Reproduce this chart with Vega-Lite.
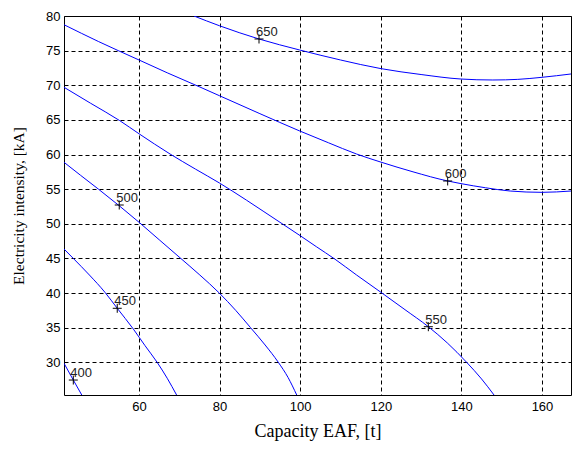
{
  "$schema": "https://vega.github.io/schema/vega-lite/v6.json",
  "width": 507,
  "height": 379,
  "autosize": {"type": "none"},
  "padding": {"left": 64, "top": 16, "right": 1, "bottom": 55},
  "background": "white",
  "config": {
    "view": {"stroke": "black", "strokeWidth": 1},
    "axis": {
      "grid": true,
      "gridColor": "black",
      "gridOpacity": 1,
      "gridDash": [4, 3],
      "gridWidth": 1,
      "ticks": false,
      "tickSize": 0,
      "domain": false,
      "labelFont": "Liberation Sans",
      "labelFontSize": 13,
      "labelColor": "black",
      "titleFont": "Liberation Serif",
      "titleFontSize": 16,
      "titleFontWeight": "normal",
      "titleColor": "black"
    }
  },
  "datasets": {
    "contours": [
      {"level": 650, "i": 1, "x": 73.65, "y": 80.0},
      {"level": 650, "i": 2, "x": 79.93, "y": 78.6},
      {"level": 650, "i": 3, "x": 89.78, "y": 76.68},
      {"level": 650, "i": 4, "x": 99.88, "y": 75.09},
      {"level": 650, "i": 5, "x": 110.0, "y": 73.65},
      {"level": 650, "i": 6, "x": 120.05, "y": 72.4},
      {"level": 650, "i": 7, "x": 130.0, "y": 71.55},
      {"level": 650, "i": 8, "x": 139.9, "y": 70.9},
      {"level": 650, "i": 9, "x": 147.8, "y": 70.76},
      {"level": 650, "i": 10, "x": 154.0, "y": 70.85},
      {"level": 650, "i": 11, "x": 160.0, "y": 71.15},
      {"level": 650, "i": 12, "x": 167.2, "y": 71.63},
      {"level": 600, "i": 1, "x": 41.39, "y": 78.74},
      {"level": 600, "i": 2, "x": 50.0, "y": 76.3},
      {"level": 600, "i": 3, "x": 60.0, "y": 73.65},
      {"level": 600, "i": 4, "x": 67.0, "y": 71.8},
      {"level": 600, "i": 5, "x": 75.1, "y": 69.75},
      {"level": 600, "i": 6, "x": 79.93, "y": 68.5},
      {"level": 600, "i": 7, "x": 90.0, "y": 65.9},
      {"level": 600, "i": 8, "x": 99.88, "y": 63.4},
      {"level": 600, "i": 9, "x": 107.0, "y": 61.7},
      {"level": 600, "i": 10, "x": 114.0, "y": 60.07},
      {"level": 600, "i": 11, "x": 120.05, "y": 58.9},
      {"level": 600, "i": 12, "x": 128.0, "y": 57.5},
      {"level": 600, "i": 13, "x": 136.6, "y": 56.18},
      {"level": 600, "i": 14, "x": 139.9, "y": 55.8},
      {"level": 600, "i": 15, "x": 146.0, "y": 55.2},
      {"level": 600, "i": 16, "x": 152.1, "y": 54.73},
      {"level": 600, "i": 17, "x": 160.0, "y": 54.54},
      {"level": 600, "i": 18, "x": 167.2, "y": 54.73},
      {"level": 550, "i": 1, "x": 41.39, "y": 69.71},
      {"level": 550, "i": 2, "x": 48.0, "y": 67.4},
      {"level": 550, "i": 3, "x": 55.2, "y": 64.9},
      {"level": 550, "i": 4, "x": 60.0, "y": 63.0},
      {"level": 550, "i": 5, "x": 67.7, "y": 60.08},
      {"level": 550, "i": 6, "x": 74.0, "y": 57.9},
      {"level": 550, "i": 7, "x": 79.93, "y": 55.9},
      {"level": 550, "i": 8, "x": 86.7, "y": 53.4},
      {"level": 550, "i": 9, "x": 91.0, "y": 51.75},
      {"level": 550, "i": 10, "x": 95.8, "y": 49.9},
      {"level": 550, "i": 11, "x": 99.95, "y": 48.3},
      {"level": 550, "i": 12, "x": 104.0, "y": 46.7},
      {"level": 550, "i": 13, "x": 108.6, "y": 44.9},
      {"level": 550, "i": 14, "x": 114.0, "y": 42.6},
      {"level": 550, "i": 15, "x": 120.05, "y": 40.1},
      {"level": 550, "i": 16, "x": 126.0, "y": 37.6},
      {"level": 550, "i": 17, "x": 131.8, "y": 35.14},
      {"level": 550, "i": 18, "x": 136.5, "y": 32.8},
      {"level": 550, "i": 19, "x": 141.3, "y": 30.0},
      {"level": 550, "i": 20, "x": 145.0, "y": 27.6},
      {"level": 550, "i": 21, "x": 148.1, "y": 25.28},
      {"level": 500, "i": 1, "x": 41.39, "y": 58.88},
      {"level": 500, "i": 2, "x": 45.5, "y": 57.0},
      {"level": 500, "i": 3, "x": 49.9, "y": 55.02},
      {"level": 500, "i": 4, "x": 55.1, "y": 52.6},
      {"level": 500, "i": 5, "x": 60.25, "y": 50.1},
      {"level": 500, "i": 6, "x": 65.0, "y": 47.7},
      {"level": 500, "i": 7, "x": 70.17, "y": 45.1},
      {"level": 500, "i": 8, "x": 75.1, "y": 42.6},
      {"level": 500, "i": 9, "x": 79.93, "y": 40.0},
      {"level": 500, "i": 10, "x": 84.0, "y": 37.5},
      {"level": 500, "i": 11, "x": 87.7, "y": 34.99},
      {"level": 500, "i": 12, "x": 91.3, "y": 32.5},
      {"level": 500, "i": 13, "x": 94.57, "y": 30.0},
      {"level": 500, "i": 14, "x": 97.0, "y": 27.8},
      {"level": 500, "i": 15, "x": 99.14, "y": 25.28},
      {"level": 450, "i": 1, "x": 41.39, "y": 46.36},
      {"level": 450, "i": 2, "x": 43.7, "y": 45.0},
      {"level": 450, "i": 3, "x": 47.7, "y": 42.6},
      {"level": 450, "i": 4, "x": 51.56, "y": 40.1},
      {"level": 450, "i": 5, "x": 54.6, "y": 37.8},
      {"level": 450, "i": 6, "x": 58.6, "y": 34.8},
      {"level": 450, "i": 7, "x": 61.5, "y": 32.4},
      {"level": 450, "i": 8, "x": 64.5, "y": 30.0},
      {"level": 450, "i": 9, "x": 67.0, "y": 27.7},
      {"level": 450, "i": 10, "x": 69.33, "y": 25.28},
      {"level": 400, "i": 1, "x": 41.39, "y": 29.86},
      {"level": 400, "i": 2, "x": 43.7, "y": 27.44},
      {"level": 400, "i": 3, "x": 45.8, "y": 25.28}
    ],
    "labels": [
      {"level": "650", "x": 89.78, "y": 76.68},
      {"level": "600", "x": 136.6, "y": 56.18},
      {"level": "550", "x": 131.8, "y": 35.14},
      {"level": "500", "x": 55.1, "y": 52.71},
      {"level": "450", "x": 54.6, "y": 37.8},
      {"level": "400", "x": 43.7, "y": 27.44}
    ]
  },
  "encoding": {
    "x": {
      "field": "x",
      "type": "quantitative",
      "scale": {"domain": [41.39, 167.2], "nice": false, "zero": false},
      "axis": {
        "title": "Capacity EAF, [t]",
        "values": [60, 80, 100, 120, 140, 160],
        "labelPadding": 5,
        "titlePadding": 9,
        "titleFontSize": 18
      }
    },
    "y": {
      "field": "y",
      "type": "quantitative",
      "scale": {"domain": [25.28, 80], "nice": false, "zero": false},
      "axis": {
        "title": "Electricity intensity, [kA]",
        "values": [30, 35, 40, 45, 50, 55, 60, 65, 70, 75, 80],
        "labelPadding": 4,
        "titlePadding": 19,
        "titleFontSize": 15.5
      }
    }
  },
  "layer": [
    {
      "data": {"name": "contours"},
      "mark": {"type": "line", "color": "#0000ff", "strokeWidth": 1, "clip": true, "interpolate": "monotone"},
      "encoding": {
        "detail": {"field": "level", "type": "nominal"},
        "order": {"field": "i", "type": "quantitative"}
      }
    },
    {
      "data": {"name": "labels"},
      "mark": {
        "type": "point",
        "shape": "M-1,0L1,0M0,-1L0,1",
        "size": 81,
        "stroke": "black",
        "strokeWidth": 1,
        "filled": false,
        "opacity": 1
      }
    },
    {
      "data": {"name": "labels"},
      "mark": {
        "type": "text",
        "align": "left",
        "baseline": "alphabetic",
        "dx": -3,
        "dy": -3,
        "font": "Liberation Sans",
        "fontSize": 13,
        "color": "#222"
      },
      "encoding": {"text": {"field": "level", "type": "nominal"}}
    }
  ]
}
